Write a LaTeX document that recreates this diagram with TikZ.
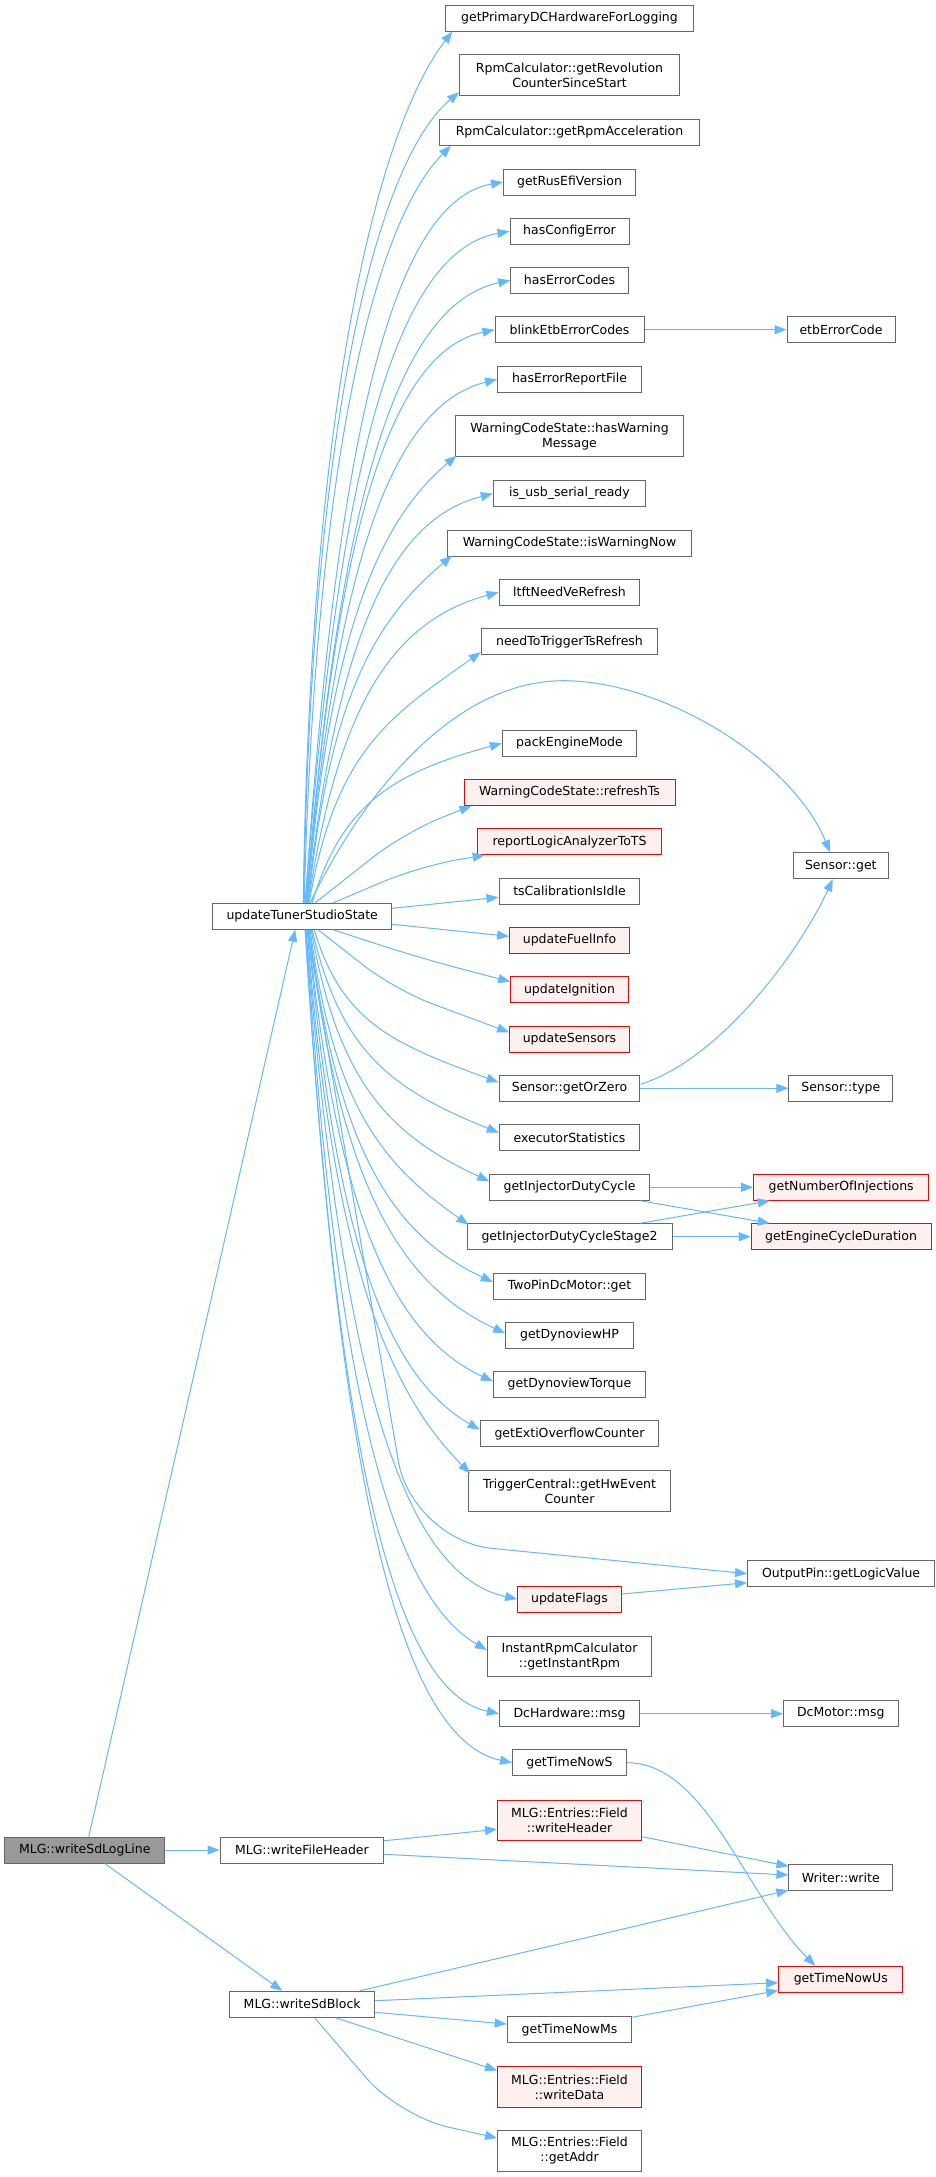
\documentclass[tikz,border=0pt]{standalone}
\usepackage{fontspec}
\setmainfont{DejaVu Sans}
\usetikzlibrary{arrows.meta,calc}
\definecolor{edgec}{HTML}{63B8FF}
\definecolor{nodeb}{HTML}{666666}
\definecolor{redfill}{HTML}{FFF0F0}
\definecolor{rootfill}{HTML}{999999}
% fan edge: [alpha]{start}{end}{arrival angle}
\newcommand\fe[4][0.15]{\draw[edge] let \p1=(#2), \p2=(#3), \n1={0.6*abs(\x2-\x1)/sqrt(cos(#4))} in
  (\p1) .. controls ({\x1+#1*(\x2-\x1)},{\y1+0.6*(\y2-\y1)}) and ({\x2-\n1*cos(#4)},{\y2-\n1*sin(#4)}) .. (\p2);}
\begin{document}
\begin{tikzpicture}[x=1pt,y=1pt,
  box/.style={draw=nodeb, line width=1pt, fill=white, minimum height=26pt, inner sep=0pt,
    font=\fontsize{12.5}{15}\selectfont, align=center, text=black},
  redbox/.style={box, draw=red, fill=redfill},
  rootbox/.style={box, fill=rootfill},
  tall/.style={minimum height=40.7pt},
  edge/.style={draw=edgec, line width=1pt, -{Triangle[length=12pt,width=9pt]}},
]
\useasboundingbox (0,0) rectangle (935,-2177);
\fill[white] (0,0) rectangle (935,-2177);

% ---- nodes ----
\node[box, minimum width=248.2pt] (n1) at (569.5,-18) {getPrimaryDCHardwareForLogging};
\node[box, tall, minimum width=219.5pt] (n2) at (569.5,-75.3) {RpmCalculator::getRevolution\\CounterSinceStart};
\node[box, minimum width=260.2pt] (n3) at (569.5,-132.3) {RpmCalculator::getRpmAcceleration};
\node[box, minimum width=131.9pt] (n4) at (569.5,-182) {getRusEfiVersion};
\node[box, minimum width=119pt] (n5) at (569.5,-231.3) {hasConfigError};
\node[box, minimum width=117.5pt] (n6) at (569.5,-280.3) {hasErrorCodes};
\node[box, minimum width=149pt] (n7) at (569.5,-329.7) {blinkEtbErrorCodes};
\node[box, minimum width=108pt] (etb) at (841,-329.7) {etbErrorCode};
\node[box, minimum width=143.9pt] (n8) at (569.5,-379.3) {hasErrorReportFile};
\node[box, tall, minimum width=227.9pt] (n9) at (569.5,-436.3) {WarningCodeState::hasWarning\\Message};
\node[box, minimum width=152.3pt] (n10) at (569.5,-493.7) {is\_usb\_serial\_ready};
\node[box, minimum width=244pt] (n11) at (569.5,-543.2) {WarningCodeState::isWarningNow};
\node[box, minimum width=140.9pt] (n12) at (569.5,-592.3) {ltftNeedVeRefresh};
\node[box, minimum width=176.3pt] (n13) at (569.5,-641.7) {needToTriggerTsRefresh};
\node[box, minimum width=134.3pt] (n14) at (569.5,-743.3) {packEngineMode};
\node[redbox, minimum width=211pt] (n15) at (569.5,-792.3) {WarningCodeState::refreshTs};
\node[redbox, minimum width=184.7pt] (n16) at (569.5,-841.7) {reportLogicAnalyzerToTS};
\node[box, minimum width=95.5pt] (sget) at (840.8,-865.7) {Sensor::get};
\node[box, minimum width=140.9pt] (n17) at (569.5,-891.3) {tsCalibrationIsIdle};
\node[box, minimum width=178.7pt] (uts) at (302.2,-916.3) {updateTunerStudioState};
\node[redbox, minimum width=119.9pt] (n18) at (569.5,-940.3) {updateFuelInfo};
\node[redbox, minimum width=117.5pt] (n19) at (569.5,-989.7) {updateIgnition};
\node[redbox, minimum width=119.9pt] (n20) at (569.5,-1039.3) {updateSensors};
\node[box, minimum width=140.9pt] (goz) at (569.5,-1088.3) {Sensor::getOrZero};
\node[box, minimum width=103.7pt] (stype) at (840.8,-1088.3) {Sensor::type};
\node[box, minimum width=140.3pt] (n22) at (569.5,-1137.7) {executorStatistics};
\node[box, minimum width=159.5pt] (injdc) at (569.5,-1187.3) {getInjectorDutyCycle};
\node[redbox, minimum width=175.1pt] (noi) at (841.2,-1187.3) {getNumberOfInjections};
\node[box, minimum width=205pt] (injdc2) at (569.5,-1236.7) {getInjectorDutyCycleStage2};
\node[redbox, minimum width=179.8pt] (ecd) at (841.1,-1236.7) {getEngineCycleDuration};
\node[box, minimum width=152.3pt] (twopin) at (569.5,-1286) {TwoPinDcMotor::get};
\node[box, minimum width=127.6pt] (dhp) at (569.5,-1335.3) {getDynoviewHP};
\node[box, minimum width=152.3pt] (dtq) at (569.5,-1384.3) {getDynoviewTorque};
\node[box, minimum width=178.7pt] (exti) at (569.5,-1433.7) {getExtiOverflowCounter};
\node[box, tall, minimum width=201.5pt] (trig) at (569.5,-1491.2) {TriggerCentral::getHwEvent\\Counter};
\node[box, minimum width=187.1pt] (op) at (841.1,-1573.7) {OutputPin::getLogicValue};
\node[redbox, minimum width=103.7pt] (uf) at (569.5,-1599) {updateFlags};
\node[box, tall, minimum width=164.3pt] (irpm) at (569.5,-1656.5) {InstantRpmCalculator\\::getInstantRpm};
\node[box, minimum width=140.3pt] (dch) at (569.5,-1713.7) {DcHardware::msg};
\node[box, minimum width=114.4pt] (dcm) at (840.8,-1713.7) {DcMotor::msg};
\node[box, minimum width=113.9pt] (gtns) at (569.5,-1762.7) {getTimeNowS};
\node[redbox, tall, minimum width=143.9pt] (wh) at (569.5,-1820.5) {MLG::Entries::Field\\::writeHeader};
\node[rootbox, minimum width=160.1pt] (root) at (84.8,-1850) {MLG::writeSdLogLine};
\node[box, minimum width=163.7pt] (wfh) at (301.9,-1850) {MLG::writeFileHeader};
\node[box, minimum width=103.7pt] (ww) at (840.8,-1877.7) {Writer::write};
\node[redbox, minimum width=124.1pt] (gtnu) at (840.8,-1979.3) {getTimeNowUs};
\node[box, minimum width=145.1pt] (wsb) at (302.2,-2004.3) {MLG::writeSdBlock};
\node[box, minimum width=124.7pt] (gtnm) at (569.5,-2029.7) {getTimeNowMs};
\node[redbox, tall, minimum width=143.9pt] (wd) at (569.5,-2087) {MLG::Entries::Field\\::writeData};
\node[box, tall, minimum width=143.9pt] (ga) at (569.5,-2151) {MLG::Entries::Field\\::getAddr};

% ---- fan edges upward ----
\fe[0.05]{[xshift=1pt]uts.north}{[xshift=7.6pt]n1.south west}{52}
\fe[0.05]{[xshift=1.5pt]uts.north}{[yshift=4pt]n2.south west}{40}
\fe[0.08]{[xshift=2pt]uts.north}{[xshift=12pt]n3.south west}{45}
\fe{[xshift=3pt]uts.north}{n4.west}{10}
\fe{[xshift=3pt]uts.north}{n5.west}{10}
\fe{[xshift=4pt]uts.north}{n6.west}{12}
\fe{[xshift=4pt]uts.north}{n7.west}{12}
\fe{[xshift=4pt]uts.north}{n8.west}{14}
\fe{[xshift=5pt]uts.north}{[xshift=1.5pt,yshift=1.5pt]n9.south west}{40}
\fe{[xshift=5pt]uts.north}{n10.west}{14}
\fe{[xshift=6pt]uts.north}{[xshift=5pt,yshift=1pt]n11.south west}{40}
\fe{[xshift=6pt]uts.north}{n12.west}{15}
\fe{[xshift=7pt]uts.north}{[yshift=3pt]n13.south west}{35}
\draw[edge] ([xshift=8pt]uts.north) .. controls (362.7,-794.2) and (453.5,-680.7) .. (563.5,-680.7)
   .. controls (663.5,-680.7) and (792.5,-760.3) .. ([xshift=-10.8pt]sget.north);
\fe{[xshift=10pt]uts.north}{n14.west}{15}
\draw[edge, rounded corners=40pt] ([xshift=13pt]uts.north) -- (405,-832) -- ([xshift=8pt]n15.south west);
\draw[edge, rounded corners=40pt] ([xshift=31pt]uts.north) -- (420,-866) -- ([xshift=8pt]n16.south west);
\draw[edge] ([yshift=8pt]uts.east) -- ([yshift=-6pt]n17.west);

% ---- fan edges downward ----
\draw[edge] ([yshift=-8pt]uts.east) -- ([yshift=4pt]n18.west);
\draw[edge, rounded corners=40pt] ([xshift=31pt]uts.south) -- (420,-958) -- ([yshift=8pt]n19.west);
\draw[edge, rounded corners=40pt] ([xshift=16pt]uts.south) -- (395,-990) -- ([yshift=7pt]n20.west);
\fe{[xshift=12pt]uts.south}{[yshift=6pt]goz.west}{-20}
\fe{[xshift=10pt]uts.south}{[yshift=5pt]n22.west}{-22}
\fe{[xshift=9pt]uts.south}{[yshift=6pt]injdc.west}{-25}
\fe{[xshift=8pt]uts.south}{[xshift=2pt,yshift=-1.5pt]injdc2.north west}{-35}
\fe{[xshift=7pt]uts.south}{[yshift=4pt]twopin.west}{-25}
\fe{[xshift=7pt]uts.south}{[yshift=2pt]dhp.west}{-25}
\fe{[xshift=6pt]uts.south}{[yshift=3pt]dtq.west}{-25}
\fe{[xshift=6pt]uts.south}{[yshift=4pt]exti.west}{-30}
\fe{[xshift=5pt]uts.south}{[xshift=2pt,yshift=-3pt]trig.north west}{-45}
\draw[edge, rounded corners=80pt] ([xshift=5pt]uts.south) -- (412,-1540.4) -- (op.west);
\fe{[xshift=4pt]uts.south}{uf.west}{-12}
\fe{[xshift=4pt]uts.south}{[yshift=6.5pt]irpm.west}{-30}
\fe{[xshift=3pt]uts.south}{dch.west}{-12}
\fe{[xshift=3pt]uts.south}{gtns.west}{-12}

% ---- other edges ----
\draw[edge] (n7.east) -- (etb.west);
\draw[edge] ([yshift=4pt]goz.east) .. controls +(80,25) and +(-33,-72) .. ([xshift=-8pt]sget.south);
\draw[edge] (goz.east) -- (stype.west);
\draw[edge] (injdc.east) -- (noi.west);
\draw[edge] ([xshift=-9pt]injdc.south east) -- ([xshift=19pt]ecd.north west);
\draw[edge] ([xshift=-32pt]injdc2.north east) -- ([xshift=16.6pt]noi.south west);
\draw[edge] (injdc2.east) -- (ecd.west);
\draw[edge] ([yshift=5pt]uf.east) -- ([yshift=-9pt]op.west);
\draw[edge] (dch.east) -- (dcm.west);
\draw[edge] (gtns.east) .. controls +(80,0) and +(-70,70) .. ([xshift=-25.5pt]gtnu.north);
\draw[edge] ([xshift=4pt]root.north) -- ([xshift=-7pt]uts.south);
\draw[edge] (root.east) -- (wfh.west);
\draw[edge] ([xshift=20pt]root.south) -- ([xshift=-20pt]wsb.north);
\draw[edge] ([yshift=9.3pt]wfh.east) -- ([yshift=-8.8pt]wh.west);
\draw[edge] ([yshift=-4.3pt]wfh.east) -- ([yshift=2.7pt]ww.west);
\draw[edge] ([yshift=4.7pt]wh.south east) -- ([yshift=-2pt]ww.north west);
\draw[edge] ([xshift=57.5pt]wsb.north) -- ([yshift=1pt]ww.south west);
\draw[edge] ([yshift=3.6pt]wsb.east) -- ([yshift=-3.4pt]gtnu.west);
\draw[edge] ([yshift=-8pt]wsb.east) -- ([yshift=5.7pt]gtnm.west);
\draw[edge] ([yshift=-1pt]gtnm.north east) -- ([yshift=2.3pt]gtnu.south west);
\draw[edge] ([xshift=33.5pt]wsb.south) -- ([yshift=-4.3pt]wd.north west);
\draw[edge, rounded corners=50pt] ([xshift=12.5pt]wsb.south) -- (399,-2116) -- ([yshift=13pt]ga.west);
\end{tikzpicture}
\end{document}
